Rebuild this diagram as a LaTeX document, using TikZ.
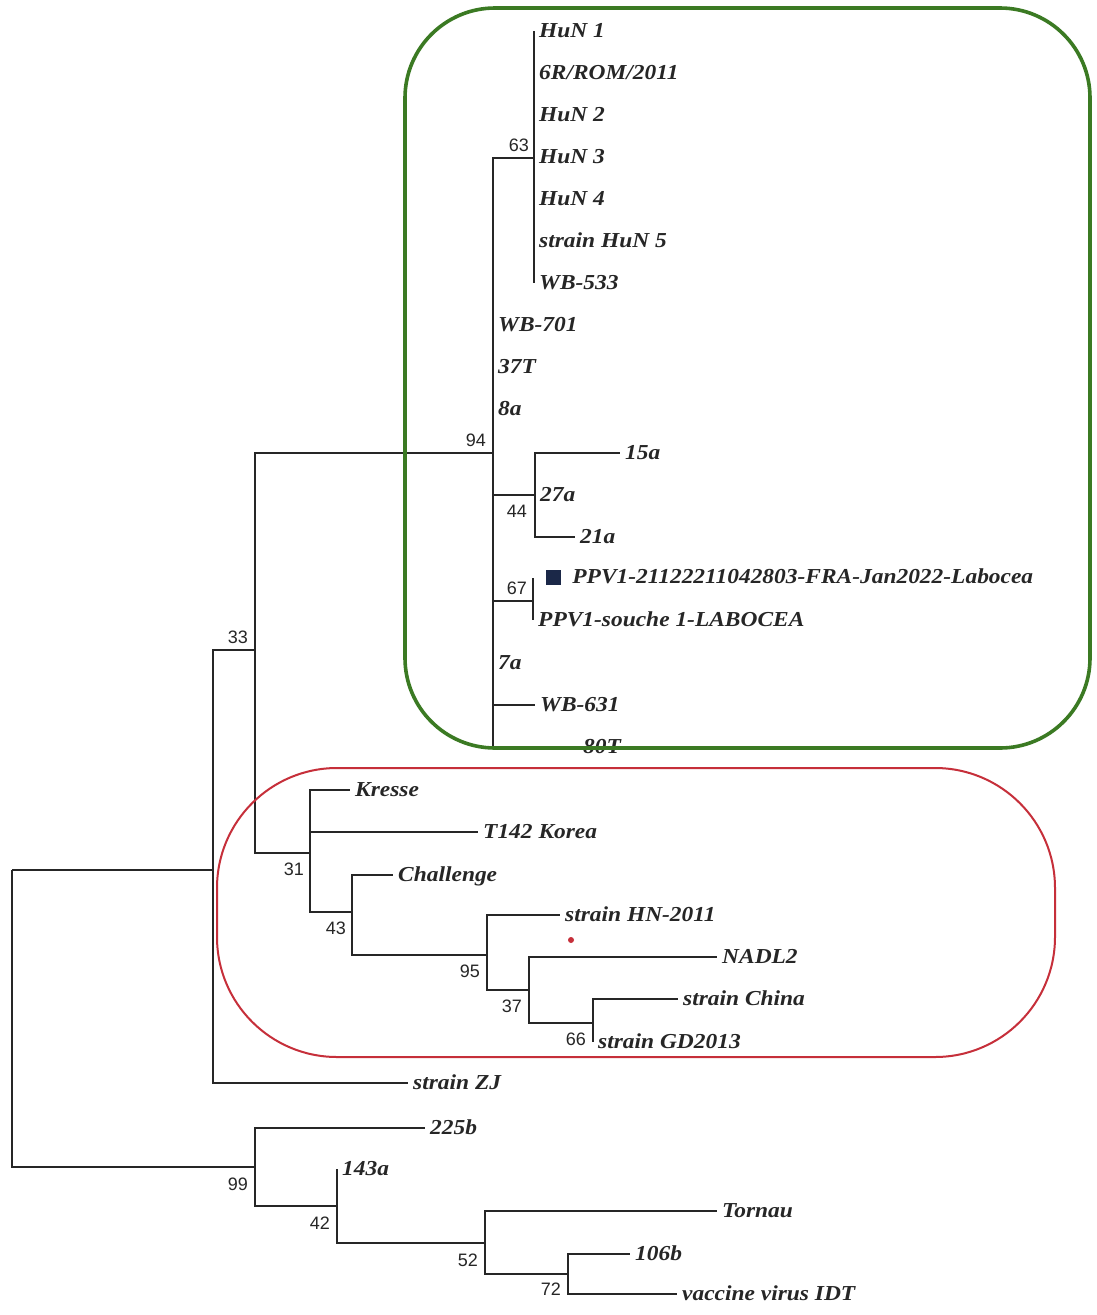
\documentclass[tikz,border=0pt]{standalone}
\usepackage{fontspec}
\setmainfont{Liberation Serif}
\setsansfont{Liberation Sans}
\newfontfamily\leaffont[FakeStretch=1.1]{Liberation Serif}
\definecolor{treecol}{HTML}{262626}
\definecolor{grn}{HTML}{3B7A23}
\definecolor{rd}{HTML}{C62F3A}
\definecolor{navy}{HTML}{1B2848}
\begin{document}
\begin{tikzpicture}[x=1pt,y=-1pt,
  branch/.style={line width=1.9pt, draw=treecol},
  leaf/.style={anchor=west, inner sep=0pt, xshift=5pt, text height=13pt, text depth=0pt, text=treecol,
    font=\leaffont\bfseries\itshape\fontsize{21.3}{23}\selectfont},
  boot/.style={inner sep=0pt, text=treecol, font=\sffamily\fontsize{18}{18}\selectfont},
  bootup/.style={boot, anchor=south east},
  bootdn/.style={boot, anchor=north east}]
\useasboundingbox[fill=white] (0,0) rectangle (1097,1315);
% internal nodes
\coordinate (root) at (12,870);
\coordinate (nA) at (213,870);
\coordinate (n33) at (255,650);
\coordinate (n94) at (493,453);
\coordinate (n63) at (534,158);
\coordinate (n44) at (535,495);
\coordinate (n67) at (533,601);
\coordinate (n31) at (310,853);
\coordinate (n43) at (352,912);
\coordinate (n95) at (487,955);
\coordinate (n37) at (529,990);
\coordinate (n66) at (593,1023);
\coordinate (n99) at (255,1167);
\coordinate (n42) at (337,1206);
\coordinate (n52) at (485,1243);
\coordinate (n72) at (568,1274);
% leaves
\coordinate (hun1) at (534,31);
\coordinate (rom) at (534,73);
\coordinate (hun2) at (534,115);
\coordinate (hun3) at (534,157);
\coordinate (hun4) at (534,199);
\coordinate (hun5) at (534,241);
\coordinate (wb533) at (534,283);
\coordinate (wb701) at (493,325);
\coordinate (t37) at (493,367);
\coordinate (a8) at (493,409);
\coordinate (a15) at (620,453);
\coordinate (a27) at (535,495);
\coordinate (a21) at (575,537);
\coordinate (ppv) at (533,578);
\coordinate (souche) at (533,620);
\coordinate (a7) at (493,663);
\coordinate (wb631) at (535,705);
\coordinate (t80) at (578,747);
\coordinate (kresse) at (350,790);
\coordinate (korea) at (478,832);
\coordinate (chall) at (393,875);
\coordinate (hn) at (560,915);
\coordinate (nadl) at (717,957);
\coordinate (china) at (678,999);
\coordinate (gd) at (593,1042);
\coordinate (zj) at (408,1083);
\coordinate (b225) at (425,1128);
\coordinate (a143) at (337,1169);
\coordinate (tornau) at (717,1211);
\coordinate (b106) at (630,1254);
\coordinate (vac) at (677,1294);
% branches
\draw[branch] (root) -- (nA);
\draw[branch] (root) |- (n99);
\draw[branch] (nA) |- (n33);
\draw[branch] (nA) |- (zj);
\draw[branch] (n33) |- (n94);
\draw[branch] (n33) |- (n31);
\draw[branch] (n94) |- (n63);
\draw[branch] (n94) |- (t80);
\draw[branch] (n94) |- (n44);
\draw[branch] (n94) |- (n67);
\draw[branch] (n94) |- (wb631);
\draw[branch] (n63) -- (hun1);
\draw[branch] (n63) -- (wb533);
\draw[branch] (n44) |- (a15);
\draw[branch] (n44) |- (a21);
\draw[branch] (n67) -- (ppv);
\draw[branch] (n67) -- (souche);
\draw[branch] (n31) |- (kresse);
\draw[branch] (n31) |- (korea);
\draw[branch] (n31) |- (n43);
\draw[branch] (n43) |- (chall);
\draw[branch] (n43) |- (n95);
\draw[branch] (n95) |- (hn);
\draw[branch] (n95) |- (n37);
\draw[branch] (n37) |- (nadl);
\draw[branch] (n37) |- (n66);
\draw[branch] (n66) |- (china);
\draw[branch] (n66) -- (gd);
\draw[branch] (n99) |- (b225);
\draw[branch] (n99) |- (n42);
\draw[branch] (n42) -- (a143);
\draw[branch] (n42) |- (n52);
\draw[branch] (n52) |- (tornau);
\draw[branch] (n52) |- (n72);
\draw[branch] (n72) |- (b106);
\draw[branch] (n72) |- (vac);
% leaf labels
\node[leaf] (lhun1) at (hun1) {HuN 1};
\node[leaf] (lrom) at (rom) {6R/ROM/2011};
\node[leaf] (lhun2) at (hun2) {HuN 2};
\node[leaf] (lhun3) at (hun3) {HuN 3};
\node[leaf] (lhun4) at (hun4) {HuN 4};
\node[leaf] (lhun5) at (hun5) {strain HuN 5};
\node[leaf] (lwb533) at (wb533) {WB-533};
\node[leaf] (lwb701) at (wb701) {WB-701};
\node[leaf] (l37) at (t37) {37T};
\node[leaf] (l8) at (a8) {8a};
\node[leaf] (l15) at (a15) {15a};
\node[leaf] (l27) at (a27) {27a};
\node[leaf] (l21) at (a21) {21a};
\node[fill=navy, minimum size=15pt, inner sep=0pt] (sq) at (553.5,577) {};
\node[leaf, xshift=0pt] (lppv) at ([xshift=6pt]sq.east) {PPV1-21122211042803-FRA-Jan2022-Labocea};
\node[leaf] (lsouche) at (souche) {PPV1-souche 1-LABOCEA};
\node[leaf] (l7) at (a7) {7a};
\node[leaf] (lwb631) at (wb631) {WB-631};
\node[leaf] (l80) at (t80) {80T};
\node[leaf] (lkresse) at (kresse) {Kresse};
\node[leaf] (lkorea) at (korea) {T142 Korea};
\node[leaf] (lchall) at (chall) {Challenge};
\node[leaf] (lhn) at (hn) {strain HN-2011};
\node[leaf] (lnadl) at (nadl) {NADL2};
\node[leaf] (lchina) at (china) {strain China};
\node[leaf] (lgd) at (gd) {strain GD2013};
\node[leaf] (lzj) at (zj) {strain ZJ};
\node[leaf] (l225) at (b225) {225b};
\node[leaf] (l143) at (a143) {143a};
\node[leaf] (ltornau) at (tornau) {Tornau};
\node[leaf] (l106) at (b106) {106b};
\node[leaf] (lvac) at (vac) {vaccine virus IDT};
% bootstrap values
\node[bootup] (b63) at ([shift={(-5,-6)}]n63) {63};
\node[bootup] (b94) at ([shift={(-7,-6)}]n94) {94};
\node[bootup] (b33) at ([shift={(-7,-6)}]n33) {33};
\node[bootdn] (b44) at ([shift={(-8,10)}]n44) {44};
\node[bootup] (b67) at ([shift={(-6,-6)}]n67) {67};
\node[bootdn] (b31) at ([shift={(-6,10)}]n31) {31};
\node[bootdn] (b43) at ([shift={(-6,10)}]n43) {43};
\node[bootdn] (b95) at ([shift={(-7,10)}]n95) {95};
\node[bootdn] (b37) at ([shift={(-7,10)}]n37) {37};
\node[bootdn] (b66) at ([shift={(-7,10)}]n66) {66};
\node[bootdn] (b99) at ([shift={(-7,11)}]n99) {99};
\node[bootdn] (b42) at ([shift={(-7,11)}]n42) {42};
\node[bootdn] (b52) at ([shift={(-7,11)}]n52) {52};
\node[bootdn] (b72) at ([shift={(-7,9)}]n72) {72};
% red dot
\node[circle, fill=rd, inner sep=0pt, minimum size=6pt] (dot) at (571,940) {};
% cluster outlines
\draw[grn, line width=3.6pt, rounded corners=90pt] (405,8) rectangle (1090,748);
\draw[rd, line width=2pt, rounded corners=120pt] (217,768) rectangle (1055,1057);
\end{tikzpicture}
\end{document}
